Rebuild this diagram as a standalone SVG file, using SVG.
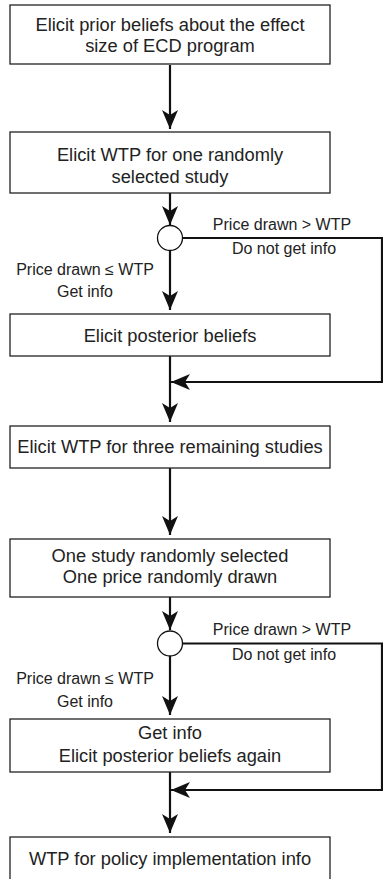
<svg xmlns="http://www.w3.org/2000/svg" width="383" height="879" viewBox="0 0 383 879">
<style>
.box{fill:#fff;stroke:#222;stroke-width:1.3}
.t{font-family:"Liberation Sans",Arial,sans-serif;font-size:18.3px;fill:#222;text-anchor:middle}
.l{font-family:"Liberation Sans",Arial,sans-serif;font-size:16px;fill:#222;text-anchor:middle}
.c{fill:none;stroke:#111;stroke-width:2.2}
.dec{fill:#fff;stroke:#111;stroke-width:1.3}
</style>
<defs>
<marker id="ah" viewBox="-20 -9 21 18" refX="0" refY="0" markerWidth="21" markerHeight="18" markerUnits="userSpaceOnUse" orient="auto">
<path d="M0,0 L-19,-8 L-14,0 L-19,8 Z" fill="#111"/>
</marker>
</defs>
<rect width="383" height="879" fill="#fff"/>
<g id="connectors">
<path class="c" d="M170,65 V129" marker-end="url(#ah)"/>
<path class="c" d="M170,193 V225" marker-end="url(#ah)"/>
<path class="c" d="M170,250.5 V310" marker-end="url(#ah)"/>
<path class="c" d="M182.5,238 H382 V382 H171" marker-end="url(#ah)"/>
<path class="c" d="M170,356 V422" marker-end="url(#ah)"/>
<path class="c" d="M170,468 V535" marker-end="url(#ah)"/>
<path class="c" d="M170,597 V630" marker-end="url(#ah)"/>
<path class="c" d="M170,656 V715" marker-end="url(#ah)"/>
<path class="c" d="M182.5,643.5 H382 V790 H171" marker-end="url(#ah)"/>
<path class="c" d="M170,772 V833" marker-end="url(#ah)"/>
</g>
<g id="n1"><rect class="box" x="10" y="5" width="320" height="59"/>
<text class="t" x="170" y="31">Elicit prior beliefs about the effect</text>
<text class="t" x="170" y="52">size of ECD program</text></g>
<g id="n2"><rect class="box" x="10" y="132" width="320" height="61"/>
<text class="t" x="170" y="161">Elicit WTP for one randomly</text>
<text class="t" x="170" y="183">selected study</text></g>
<g id="d1"><circle class="dec" cx="170" cy="238" r="12.5"/>
<text class="l" x="282" y="230">Price drawn &gt; WTP</text>
<text class="l" x="284" y="254">Do not get info</text>
<text class="l" x="85" y="275">Price drawn ≤ WTP</text>
<text class="l" x="85" y="297">Get info</text></g>
<g id="n3"><rect class="box" x="10" y="314" width="320" height="42"/>
<text class="t" x="170" y="342">Elicit posterior beliefs</text></g>
<g id="n4"><rect class="box" x="10" y="426" width="320" height="42"/>
<text class="t" x="170" y="453">Elicit WTP for three remaining studies</text></g>
<g id="n5"><rect class="box" x="10" y="539" width="320" height="58"/>
<text class="t" x="170" y="562">One study randomly selected</text>
<text class="t" x="170" y="583">One price randomly drawn</text></g>
<g id="d2"><circle class="dec" cx="170" cy="643.5" r="12.5"/>
<text class="l" x="282" y="635">Price drawn &gt; WTP</text>
<text class="l" x="284" y="660">Do not get info</text>
<text class="l" x="85" y="684">Price drawn ≤ WTP</text>
<text class="l" x="85" y="707">Get info</text></g>
<g id="n6"><rect class="box" x="10" y="719" width="320" height="53"/>
<text class="t" x="170" y="739">Get info</text>
<text class="t" x="170" y="762">Elicit posterior beliefs again</text></g>
<g id="n7"><rect class="box" x="10" y="837" width="320" height="50"/>
<text class="t" x="170" y="865">WTP for policy implementation info</text></g>
</svg>
